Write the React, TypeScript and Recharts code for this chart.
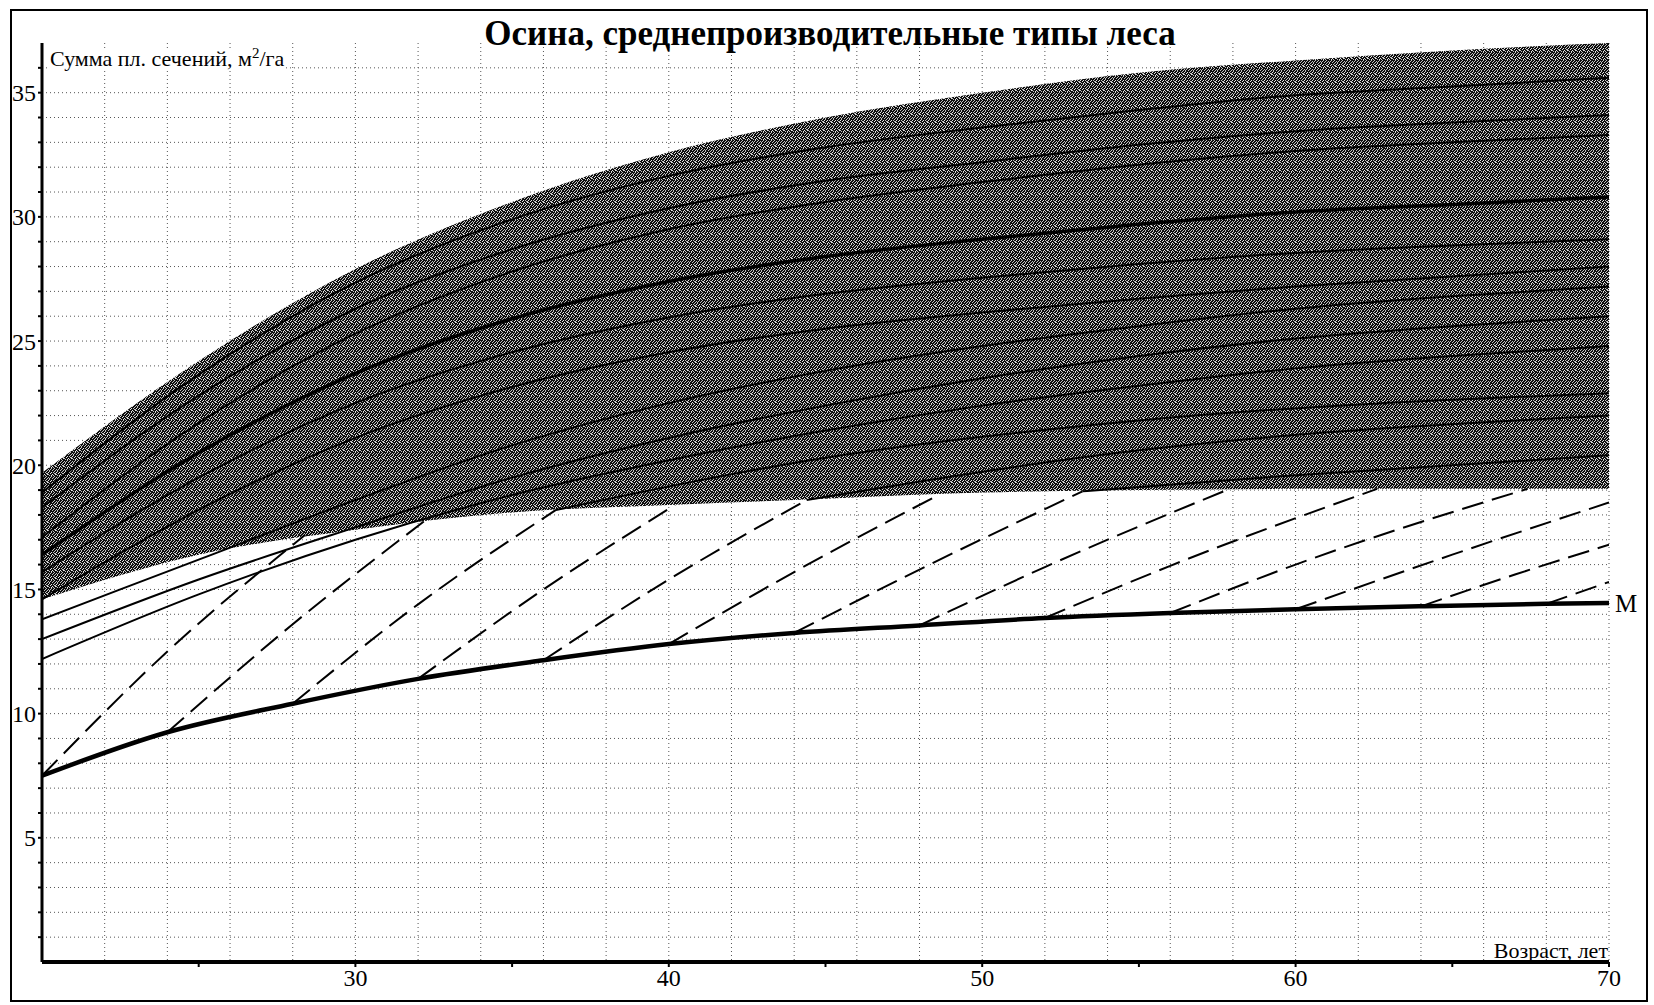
import { ComposedChart, Area, Line, XAxis, YAxis, CartesianGrid } from 'recharts';

// ages for the family of growth curves
const AGES = [20, 25, 30, 35, 40, 45, 50, 55, 60, 65, 70];

// dark zone boundaries
const ZONE_TOP = [19.7, 24.2, 27.9, 30.6, 32.6, 34.0, 35.0, 35.8, 36.3, 36.7, 37.0];
const ZONE_BOTTOM = [14.6, 16.4, 17.4, 18.1, 18.4, 18.65, 18.9, 19.0, 19.05, 19.05, 19.05];

// solid growth curves
const CURVE_B1 = [18.9, 23.65, 27.35, 29.9, 31.65, 32.8, 33.6, 34.3, 34.9, 35.25, 35.6];
const CURVE_B2 = [18.3, 22.8, 26.3, 28.7, 30.35, 31.45, 32.2, 32.9, 33.45, 33.8, 34.1];
const CURVE_B3 = [17.1, 21.7, 25.3, 27.8, 29.5, 30.6, 31.4, 32.1, 32.65, 33.0, 33.3];
const CURVE_MAIN = [16.4, 20.5, 23.7, 25.9, 27.4, 28.4, 29.1, 29.7, 30.2, 30.5, 30.8];
const CURVE_C1 = [15.7, 19.5, 22.5, 24.55, 25.95, 26.9, 27.55, 28.1, 28.55, 28.85, 29.1];
const CURVE_C2 = [14.6, 18.2, 21.1, 23.15, 24.55, 25.5, 26.15, 26.7, 27.2, 27.6, 28.0];
const CURVE_L1 = [13.8, 16.2, 18.6, 20.8, 22.5, 23.8, 24.8, 25.6, 26.3, 26.8, 27.2];
const CURVE_L2 = [13.0, 15.4, 17.5, 19.5, 21.1, 22.4, 23.5, 24.4, 25.1, 25.6, 26.0];
const CURVE_L3 = [12.2, 14.8, 17.0, 18.8, 20.2, 21.4, 22.4, 23.2, 23.9, 24.4, 24.8];

// curves continuing from the ends of thinning lines
const CONT_1 = [[36.4, 18.2], [45, 20.3], [55, 21.8], [70, 22.9]];
const CONT_2 = [[44.4, 18.6], [55, 20.6], [70, 22.0]];
const CONT_3 = [[53.2, 18.95], [60, 19.6], [70, 20.4]];

// line M
const M_AGES = [20, 24, 28, 32, 36, 40, 44, 48, 52, 56, 60, 64, 68, 70];
const M_VALUES = [7.5, 9.25, 10.4, 11.4, 12.15, 12.8, 13.25, 13.55, 13.85, 14.05, 14.2, 14.32, 14.42, 14.45];

// dashed thinning lines: [age, value]
const THIN_20 = [[20, 7.5], [24, 12.5], [28.4, 17.2]];
const THIN_24 = [[24, 9.25], [28, 13.6], [32.2, 17.75]];
const THIN_28 = [[28, 10.4], [32, 14.4], [36.4, 18.2]];
const THIN_32 = [[32, 11.4], [36, 15.0], [40.2, 18.4]];
const THIN_36 = [[36, 12.15], [40, 15.4], [44.4, 18.6]];
const THIN_40 = [[40, 12.8], [44, 15.7], [48.6, 18.8]];
const THIN_44 = [[44, 13.25], [48, 15.8], [53.2, 18.95]];
const THIN_48 = [[48, 13.55], [52, 15.9], [57.8, 19.0]];
const THIN_52 = [[52, 13.85], [56, 15.95], [62.6, 19.05]];
const THIN_56 = [[56, 14.05], [60, 16.0], [67.4, 19.05]];
const THIN_60 = [[60, 14.2], [65, 16.4], [70, 18.5]];
const THIN_64 = [[64, 14.32], [67, 15.6], [70, 16.8]];
const THIN_68 = [[68, 14.42], [70, 15.3]];

const THIN_LINES = [THIN_20, THIN_24, THIN_28, THIN_32, THIN_36, THIN_40, THIN_44, THIN_48, THIN_52, THIN_56, THIN_60, THIN_64, THIN_68];
const CONT_LINES = [CONT_1, CONT_2, CONT_3];

const X_TICKS = [25, 30, 35, 40, 45, 50, 55, 60, 65, 70];
const Y_TICKS = Array.from({ length: 36 }, (_, i) => i + 1);
const X_GRID = [22, 24, 26, 28, 30, 32, 34, 36, 38, 40, 42, 44, 46, 48, 50, 52, 54, 56, 58, 60, 62, 64, 66, 68, 70];

const bandData = AGES.map((x, i) => ({
  x,
  range: [ZONE_BOTTOM[i], ZONE_TOP[i]],
  b1: CURVE_B1[i],
  b2: CURVE_B2[i],
  b3: CURVE_B3[i],
  main: CURVE_MAIN[i],
  c1: CURVE_C1[i],
  c2: CURVE_C2[i],
  l1: CURVE_L1[i],
  l2: CURVE_L2[i],
  l3: CURVE_L3[i],
}));

const mData = M_AGES.map((x, i) => ({ x, y: M_VALUES[i] }));
const toPoints = (pts: number[][]) => pts.map(([x, y]) => ({ x, y }));

// light specks of the scanned halftone, per row of an 8x8 tile
const SPECKS = [[0, 3, 5], [2, 6, 7], [0, 4, 7], [1, 5, 3], [3, 6], [0, 2, 5], [4, 7, 1], [1, 6]];

const SERIF = '"Liberation Serif", "Times New Roman", serif';
const W = 1654;
const H = 1005;

function MLabel(props: any) {
  const { x, y, index } = props;
  if (index !== M_AGES.length - 1) return null;
  return (
    <text x={x + 6} y={y + 9} fontFamily={SERIF} fontSize={25} fill="#000">
      М
    </text>
  );
}

export default function App() {
  const thinCurves = ['b1', 'b2', 'b3', 'c1', 'c2', 'l1', 'l2', 'l3'];
  return (
    <div style={{ position: 'absolute', left: 0, top: 0, width: W, height: H, background: '#fff', fontFamily: SERIF }}>
      <div
        style={{
          position: 'absolute',
          left: 10,
          top: 9,
          width: 1638,
          height: 993,
          border: '2px solid #000',
          boxSizing: 'border-box',
        }}
      />
      <ComposedChart
        width={W}
        height={H}
        data={bandData}
        margin={{ top: 43, right: 45, bottom: 13, left: 2 }}
        style={{ position: 'absolute', left: 0, top: 0 }}
      >
        <defs>
          <pattern id="dither" width="8" height="8" patternUnits="userSpaceOnUse">
            <rect width="8" height="8" fill="#0d0d0d" />
            {SPECKS.map((row, r) =>
              row.map((c) => (
                <rect
                  key={`${r}-${c}`}
                  x={c}
                  y={r}
                  width="1"
                  height="1"
                  fill={(r + c) % 3 === 0 ? '#e8e8e8' : '#c0c0c0'}
                  shapeRendering="crispEdges"
                />
              ))
            )}
          </pattern>
        </defs>
        <CartesianGrid
          stroke="#555"
          strokeDasharray="1 3"
          verticalValues={X_GRID}
          horizontalValues={Y_TICKS}
        />
        <XAxis
          type="number"
          dataKey="x"
          domain={[20, 70]}
          ticks={X_TICKS}
          allowDataOverflow
          height={30}
          tickFormatter={(v) => (v % 10 === 0 ? String(v) : '')}
          tick={{ fontSize: 24, fill: '#000', fontFamily: SERIF }}
          tickSize={5}
          tickLine={{ stroke: '#000', strokeWidth: 2 }}
          axisLine={{ stroke: '#000', strokeWidth: 4 }}
        />
        <YAxis
          type="number"
          domain={[0, 37]}
          ticks={Y_TICKS}
          allowDataOverflow
          width={40}
          interval={0}
          tickFormatter={(v) => (v % 5 === 0 ? String(v) : '')}
          tick={{ fontSize: 24, fill: '#000', fontFamily: SERIF }}
          tickSize={4}
          tickLine={{ stroke: '#000', strokeWidth: 2 }}
          axisLine={{ stroke: '#000', strokeWidth: 3 }}
        />
        {THIN_LINES.map((pts, i) => (
          <Line
            key={`thin-${i}`}
            data={toPoints(pts)}
            dataKey="y"
            type="monotone"
            stroke="#000"
            strokeWidth={2}
            strokeDasharray="22 9"
            dot={false}
            activeDot={false}
            isAnimationActive={false}
          />
        ))}
        <Area
          dataKey="range"
          type="monotone"
          fill="url(#dither)"
          fillOpacity={1}
          stroke="none"
          isAnimationActive={false}
        />
        {thinCurves.map((k) => (
          <Line
            key={k}
            dataKey={k}
            type="monotone"
            stroke="#000"
            strokeWidth={2}
            dot={false}
            activeDot={false}
            isAnimationActive={false}
          />
        ))}
        {CONT_LINES.map((pts, i) => (
          <Line
            key={`cont-${i}`}
            data={toPoints(pts)}
            dataKey="y"
            type="monotone"
            stroke="#000"
            strokeWidth={2}
            dot={false}
            activeDot={false}
            isAnimationActive={false}
          />
        ))}
        <Line
          dataKey="main"
          type="monotone"
          stroke="#000"
          strokeWidth={3.5}
          dot={false}
          activeDot={false}
          isAnimationActive={false}
        />
        <Line
          data={mData}
          dataKey="y"
          type="monotone"
          stroke="#000"
          strokeWidth={4.5}
          dot={false}
          activeDot={false}
          label={<MLabel />}
          isAnimationActive={false}
        />
      </ComposedChart>
      <div
        style={{
          position: 'absolute',
          left: 830,
          top: 16,
          transform: 'translateX(-50%)',
          fontSize: 35,
          fontWeight: 'bold',
          whiteSpace: 'nowrap',
          lineHeight: 1,
        }}
      >
        Осина, среднепроизводительные типы леса
      </div>
      <div
        style={{
          position: 'absolute',
          left: 50,
          top: 48,
          fontSize: 22,
          whiteSpace: 'nowrap',
          lineHeight: 1,
          background: '#fff',
        }}
      >
        Сумма пл. сечений, м<sup style={{ fontSize: 15, lineHeight: 0 }}>2</sup>/га
      </div>
      <div
        style={{
          position: 'absolute',
          right: 46,
          top: 940,
          fontSize: 22,
          whiteSpace: 'nowrap',
          lineHeight: 1,
        }}
      >
        Возраст, лет
      </div>
    </div>
  );
}
